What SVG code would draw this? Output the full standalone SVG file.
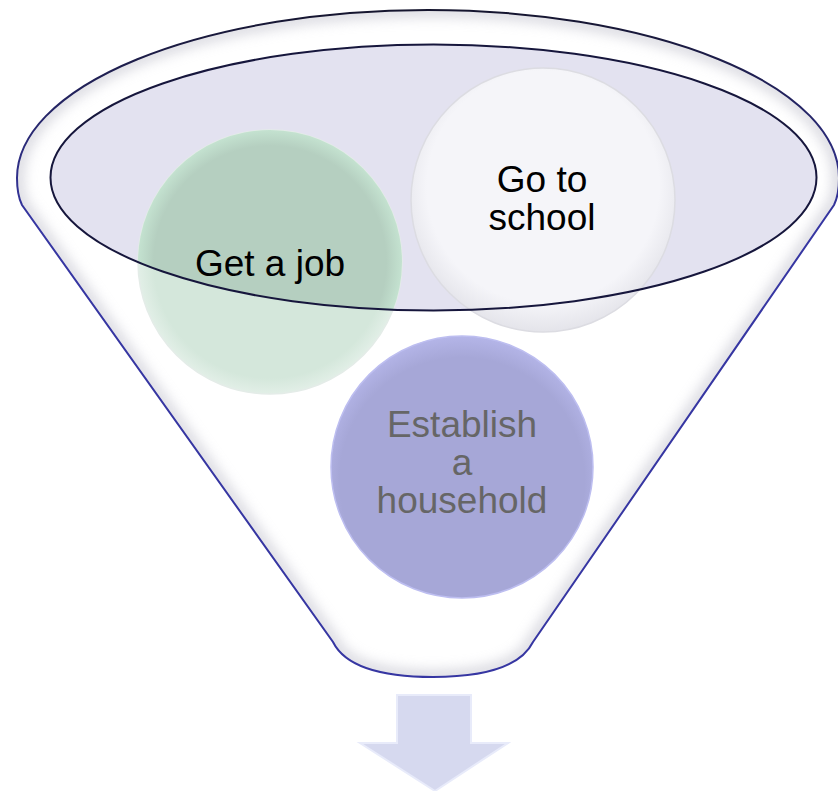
<svg xmlns="http://www.w3.org/2000/svg" width="838" height="791" viewBox="0 0 838 791">
  <style>
    .lbl { font-family: "Liberation Sans", Arial, sans-serif; font-size: 37px; text-anchor: middle; }
  </style>
  <defs>
    <linearGradient id="funnelStroke" gradientUnits="userSpaceOnUse" x1="0" y1="10" x2="0" y2="220">
      <stop offset="0" stop-color="#15152e"/>
      <stop offset="1" stop-color="#3636a2"/>
    </linearGradient>
    <clipPath id="funnelClip">
      <path id="funnelPath" d="M 17,178 A 411,168 0 0 1 839,178 Q 839,195 834,205 L 533,642 C 520,668 480,677 433,677 C 386,677 346,668 333,642 L 22,205 Q 17,195 17,178 Z"/>
    </clipPath>
    <clipPath id="ellClip">
      <ellipse cx="433.5" cy="177.5" rx="383" ry="133"/>
    </clipPath>
    <filter id="blur6" x="-10%" y="-10%" width="120%" height="120%">
      <feGaussianBlur stdDeviation="6"/>
    </filter>
    <radialGradient id="schoolFill" cx="0.5" cy="0.45" r="0.55">
      <stop offset="0.8" stop-color="#f5f5f9"/>
      <stop offset="1" stop-color="#e4e4ea"/>
    </radialGradient>
    <radialGradient id="houseFill" cx="0.5" cy="0.55" r="0.55">
      <stop offset="0.85" stop-color="#a6a7d7"/>
      <stop offset="1" stop-color="#b4b5e8"/>
    </radialGradient>
    <radialGradient id="jobFill" cx="0.5" cy="0.5" r="0.5">
      <stop offset="0.88" stop-color="#d4e7db"/>
      <stop offset="1" stop-color="#e2efe7"/>
    </radialGradient>
    <radialGradient id="jobFillIn" cx="0.5" cy="0.5" r="0.5">
      <stop offset="0.88" stop-color="#b5cfc0"/>
      <stop offset="1" stop-color="#c4e2d0"/>
    </radialGradient>
  </defs>

  <g id="funnel">
    <path d="M 17,178 A 411,168 0 0 1 839,178 Q 839,195 834,205 L 533,642 C 520,668 480,677 433,677 C 386,677 346,668 333,642 L 22,205 Q 17,195 17,178 Z" fill="#ffffff"/>
    <g clip-path="url(#funnelClip)">
      <path d="M 17,178 A 411,168 0 0 1 839,178 Q 839,195 834,205 L 533,642 C 520,668 480,677 433,677 C 386,677 346,668 333,642 L 22,205 Q 17,195 17,178 Z" fill="none" stroke="#c9c9d3" stroke-width="16" filter="url(#blur6)" opacity="0.6"/>
    </g>
    <path d="M 17,178 A 411,168 0 0 1 839,178 Q 839,195 834,205 L 533,642 C 520,668 480,677 433,677 C 386,677 346,668 333,642 L 22,205 Q 17,195 17,178 Z" fill="none" stroke="url(#funnelStroke)" stroke-width="2"/>
  </g>

  <g id="ellipse-fill">
    <ellipse cx="433.5" cy="177.5" rx="383" ry="133" fill="#e3e2f0"/>
  </g>

  <g id="node-household">
    <circle cx="462" cy="467" r="131" fill="url(#houseFill)" stroke="#bdbef0" stroke-width="1.5"/>
    <text class="lbl" fill="#666666" x="462" y="437">Establish</text>
    <text class="lbl" fill="#666666" x="462" y="475">a</text>
    <text class="lbl" fill="#666666" x="462" y="513">household</text>
  </g>

  <g id="node-job">
    <circle cx="270" cy="262" r="132" fill="url(#jobFill)" stroke="#e4ece8" stroke-width="1.5"/>
    <circle cx="270" cy="262" r="132" fill="url(#jobFillIn)" clip-path="url(#ellClip)"/>
    <text class="lbl" fill="#000000" x="270" y="276">Get a job</text>
  </g>

  <g id="node-school">
    <circle cx="543" cy="200" r="132" fill="url(#schoolFill)" stroke="#dcdce2" stroke-width="1.5"/>
    <text class="lbl" fill="#000000" x="542" y="192">Go to</text>
    <text class="lbl" fill="#000000" x="542" y="230">school</text>
  </g>

  <g id="ellipse-outline">
    <ellipse cx="433.5" cy="177.5" rx="383" ry="133" fill="none" stroke="#16163c" stroke-width="2"/>
  </g>

  <g id="connectors">
    <g id="arrow">
      <polygon points="397,695 471,695 471,743 508,743 435,791 360,743 397,743" fill="#d6d9ef" stroke="#e8ebfa" stroke-width="2"/>
    </g>
  </g>
</svg>
